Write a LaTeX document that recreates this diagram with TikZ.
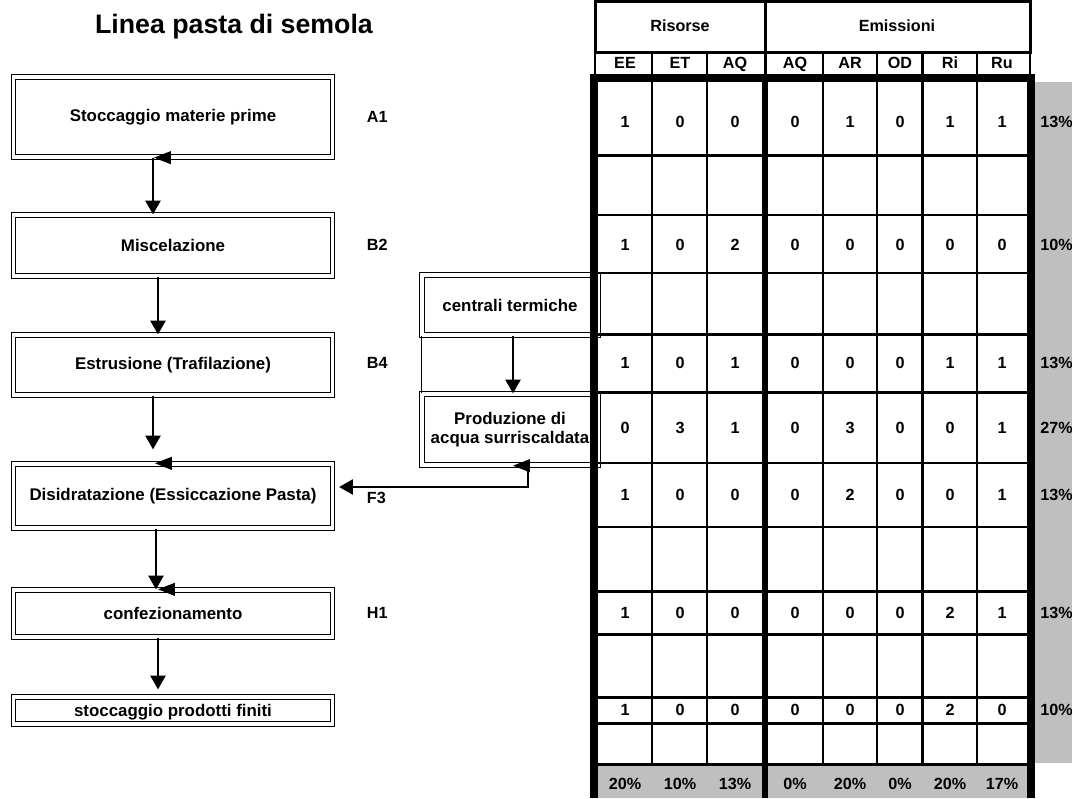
\documentclass[tikz,border=0pt]{standalone}
\usepackage{fontspec}
\setmainfont{Liberation Sans}
\usetikzlibrary{arrows.meta,calc}

\tikzset{
  stepbox/.style={draw, double, double distance=0.8mm, line width=0.33mm,
    minimum width=7.975cm, inner sep=0pt, font=\fontsize{12}{13}\selectfont\bfseries},
  sidebox/.style={stepbox, minimum width=4.4cm, align=center},
  arr/.style={line width=0.33mm, -{Triangle[length=3.4mm,width=3.8mm]}},
  lefthead/.style={line width=0.33mm, -{Triangle[length=4.2mm,width=3.2mm]}},
  steplabel/.style={anchor=west, font=\fontsize{11.5}{12}\selectfont\bfseries},
  cell/.style={font=\fontsize{11.5}{12}\selectfont\bfseries, inner sep=0pt,
    text height=8.2pt, text depth=0pt},
  gridline/.style={line width=0.0325cm},
  midline/.style={line width=0.075cm},
  boldline/.style={line width=0.15cm},
  heavyline/.style={line width=0.2cm},
}

\begin{document}
\begin{tikzpicture}[x=0.025cm, y=-0.025cm, line cap=butt]
  \useasboundingbox (0,0) rectangle (1072,798);

  % Title
  \node[anchor=base, font=\fontsize{19}{20}\selectfont\bfseries] (title) at (234,33) {Linea pasta di semola};

  % Process steps
  \node[stepbox, minimum height=2.0cm]   (stoccMP) at (173,117)   {Stoccaggio materie prime};
  \node[stepbox, minimum height=1.525cm] (misc)    at (173,245.5) {Miscelazione};
  \node[stepbox, minimum height=1.5cm]   (estr)    at (173,365)   {Estrusione (Trafilazione)};
  \node[stepbox, minimum height=1.6cm]   (disid)   at (173,496)   {Disidratazione (Essiccazione Pasta)};
  \node[stepbox, minimum height=1.175cm] (confez)  at (173,613.5) {confezionamento};
  \node[stepbox, minimum height=0.675cm, text height=8.6pt, text depth=0pt] (stoccPF) at (173,710.5) {stoccaggio prodotti finiti};

  % Step codes
  \node[steplabel] (codeA1) at (362,117) {A1};
  \node[steplabel] (codeB2) at (362,245) {B2};
  \node[steplabel] (codeB4) at (362,363) {B4};
  \node[steplabel] (codeF3) at (362,498) {F3};
  \node[steplabel] (codeH1) at (362,613) {H1};

  % Side chain (hot water)
  \node[sidebox, minimum height=1.5cm]   (centrali)  at (510,305)   {centrali termiche};
  \node[sidebox, minimum height=1.775cm] (prodAcqua) at (510,429.5) {Produzione di\\acqua surriscaldata};
  \draw[gridline] (centrali.south west) -- (prodAcqua.north west);

  % Flow arrows
  \draw[arr] ($(stoccMP.south)+(-20,0)$) -- ($(misc.north)+(-20,0)$);
  \draw[arr] ($(misc.south)+(-15,0)$) -- ($(estr.north)+(-15,0)$);
  \draw[arr] ($(estr.south)+(-20,0)$) -- ($(disid.north)+(-20,-14)$);
  \draw[arr] ($(disid.south)+(-17,0)$) -- ($(confez.north)+(-17,0)$);
  \draw[arr] ($(confez.south)+(-15,0)$) -- ($(stoccPF.north)+(-15,-7)$);
  \draw[arr] ($(centrali.south)+(3,0)$) -- ($(prodAcqua.north)+(3,0)$);
  \draw[arr] ($(prodAcqua.south)+(18,0)$) |- ($(disid.east)+(6,-9)$);

  % Stray heads on box edges
  \draw[lefthead] ($(stoccMP.south)+(-18,0)$) -- ++(-1,0);
  \draw[lefthead] ($(disid.north)+(-17,0)$) -- ++(-1,0);
  \draw[lefthead] ($(confez.north)+(-14,0)$) -- ++(-1,0);
  \draw[lefthead] ($(prodAcqua.south)+(4,0)$) -- ++(-1,0);

  % Table header
  \draw[midline] (595,1.5) rectangle (1030,52);
  \draw[midline] (765,1.5) -- (765,78);
  \draw[gridline] (595,52) -- (595,78) (1030,52) -- (1030,78);
  \foreach \x in {652,707,823,877,977} \draw[gridline] (\x,52) -- (\x,78);
  \draw[midline] (922,52) -- (922,78);
  \node[cell] (hRis) at (680,26) {Risorse};
  \node[cell] (hEmi) at (897,26) {Emissioni};
  \foreach \h [count=\i] in {EE,ET,AQ,AQ,AR,OD,Ri,Ru}{
    \pgfmathsetmacro{\cx}{{625,680,735,795,850,900,950,1002}[\i-1]}
    \node[cell] (h-\i) at (\cx,63) {\h};
  }

  % Gray fields
  \fill[black!25] (1035,82) rectangle (1072,763);
  \fill[black!25] (598,766) rectangle (762,798) (768,766) rectangle (1027,798);

  % Table grid
  \foreach \y in {215,273,463,527} \draw[gridline] (594,\y) -- (1031,\y);
  \foreach \y in {155,334,392,591,634,697,723,764} \draw[midline] (594,\y) -- (1031,\y);
  \foreach \x in {652,707,823,877,977} \draw[gridline] (\x,78) -- (\x,764);
  \draw[midline] (922,78) -- (922,764);
  \draw[boldline] (765,78) -- (765,798);
  \draw[heavyline] (594,75) -- (594,798) (1031,75) -- (1031,798);
  \draw[heavyline] (590,78) -- (1035,78);

  % Table values
  \foreach \yy/\vals/\pct [count=\r] in {122/{1,0,0,0,1,0,1,1}/13, 245/{1,0,2,0,0,0,0,0}/10,
      363/{1,0,1,0,0,0,1,1}/13, 428/{0,3,1,0,3,0,0,1}/27, 495/{1,0,0,0,2,0,0,1}/13,
      613/{1,0,0,0,0,0,2,1}/13, 710/{1,0,0,0,0,0,2,0}/10}{
    \foreach \v [count=\i] in \vals{
      \pgfmathsetmacro{\cx}{{625,680,735,795,850,900,950,1002}[\i-1]}
      \node[cell] (c-\r-\i) at (\cx,\yy) {\v};
    }
    \node[cell, anchor=west] (p-\r) at (1040,\yy) {\pct\%};
  }

  % Totals
  \foreach \t [count=\i] in {20,10,13,0,20,0,20,17}{
    \pgfmathsetmacro{\cx}{{625,680,735,795,850,900,950,1002}[\i-1]}
    \node[cell] (t-\i) at (\cx,784) {\t\%};
  }
\end{tikzpicture}
\end{document}
